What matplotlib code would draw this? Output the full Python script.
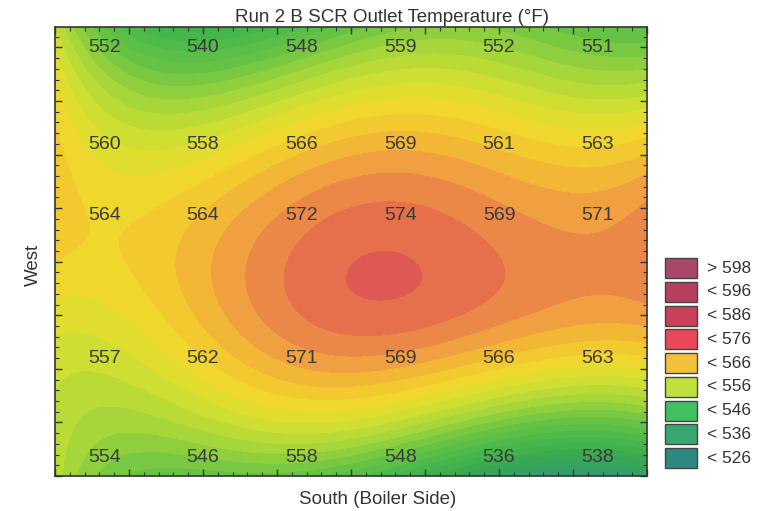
import numpy as np
import matplotlib.pyplot as plt
from matplotlib.colors import LinearSegmentedColormap
from matplotlib.patches import Rectangle
from matplotlib.ticker import MultipleLocator

# measurement grid (x across the duct, y up the West side)
col_x = [0.67, 2.0, 3.33, 4.67, 6.0, 7.33]
row_y = [8.0, 6.18, 4.87, 2.2, 0.35]
temps = [
    [552, 540, 548, 559, 552, 551],
    [560, 558, 566, 569, 561, 563],
    [564, 564, 572, 574, 569, 571],
    [557, 562, 571, 569, 566, 563],
    [554, 546, 558, 548, 536, 538],
]

legend_labels = ['> 598', '< 596', '< 586', '< 576', '< 566',
                 '< 556', '< 546', '< 536', '< 526']
legend_colors = ['#a9486a', '#b8405e', '#c8405a', '#e84858', '#f2c03a',
                 '#c0e040', '#40c060', '#38a870', '#2e8a80']

title = 'Run 2 B SCR Outlet Temperature (°F)'
x_title = 'South (Boiler Side)'
y_title = 'West'

x_max = 8.0
y_max = 8.38
bandwidth = 1.6


def dwls(px, py, pv, gx, gy, h):
    # distance weighted least squares: local quadratic at every grid node
    dx = px[None, :] - gx.ravel()[:, None]
    dy = py[None, :] - gy.ravel()[:, None]
    w = np.exp(-(dx ** 2 + dy ** 2) / (2 * h ** 2))
    A = np.stack([np.ones_like(dx), dx, dy, dx * dx, dx * dy, dy * dy], -1)
    M = np.einsum('gn,gni,gnj->gij', w, A, A) + 1e-6 * np.eye(6)
    b = np.einsum('gn,gni,n->gi', w, A, pv)
    sol = np.linalg.solve(M, b[..., None])[..., 0]
    return sol[:, 0].reshape(gx.shape)


XX, YY = np.meshgrid(col_x, row_y)
V = np.array(temps, dtype=float)

gx, gy = np.meshgrid(np.linspace(0, x_max, 200), np.linspace(0, y_max, 200))
gz = dwls(XX.ravel(), YY.ravel(), V.ravel(), gx, gy, bandwidth)

vmin, vmax = 520, 606
nodes = [
    (520, '#2a7f80'), (526, '#2e8a78'), (532, '#35a06a'), (538, '#3aa850'),
    (544, '#48b84a'), (550, '#6cc444'), (555, '#a6d63a'), (560, '#d6e030'),
    (563, '#f0d82e'), (566, '#f4c232'), (568, '#f2aa3c'), (570, '#ee9444'),
    (572, '#e97a4a'), (574, '#e2624f'), (576, '#dc4f5a'), (580, '#d2465c'),
    (590, '#c2405e'), (598, '#b04060'), (606, '#a04868'),
]
cmap = LinearSegmentedColormap.from_list(
    'scr', [((v - vmin) / (vmax - vmin), col) for v, col in nodes])

fig = plt.figure(figsize=(7.67, 5.11), dpi=100)
ax = fig.add_axes([55 / 767, 35 / 511, 592 / 767, 449 / 511])

levels = np.arange(vmin, vmax + 1, 2)
ax.contourf(gx, gy, gz, levels=levels, cmap=cmap, vmin=vmin, vmax=vmax,
            extend='both')

for i, y in enumerate(row_y):
    for j, x in enumerate(col_x):
        ax.text(x, y, str(temps[i][j]), ha='center', va='center',
                fontsize=14, color='#3a3a3a', family='Liberation Sans')

ax.set_xlim(0, x_max)
ax.set_ylim(0, y_max)
ax.xaxis.set_major_locator(MultipleLocator(1))
ax.xaxis.set_minor_locator(MultipleLocator(0.2))
ax.yaxis.set_major_locator(MultipleLocator(1))
ax.yaxis.set_minor_locator(MultipleLocator(0.2))
ax.tick_params(which='both', direction='in', top=True, right=True,
               labelbottom=False, labelleft=False, color='#333333')
ax.tick_params(which='major', length=5, width=1)
ax.tick_params(which='minor', length=3, width=0.8)
for s in ax.spines.values():
    s.set_color('#333333')
    s.set_linewidth(1.2)

fig.text(392 / 767, 1 - 18 / 511, title, ha='center', va='center',
         fontsize=13.5, color='#333333', family='Liberation Sans')
fig.text(378 / 767, 1 - 499 / 511, x_title, ha='center', va='center',
         fontsize=13.5, color='#333333', family='Liberation Sans')
fig.text(33 / 767, 1 - 265 / 511, y_title, ha='center', va='center',
         rotation=90, fontsize=13.5, color='#333333', family='Liberation Sans')

# legend boxes
lax = fig.add_axes([655 / 767, 33 / 511, 112 / 767, 225 / 511])
lax.set_xlim(0, 112)
lax.set_ylim(225, 0)
lax.axis('off')
for k, (lab, col) in enumerate(zip(legend_labels, legend_colors)):
    top = 5 + k * 23.75
    lax.add_patch(Rectangle((10, top), 32, 20, facecolor=col,
                            edgecolor='#444444', linewidth=1))
    lax.text(52, top + 10, lab, ha='left', va='center', fontsize=12.5,
             color='#333333', family='Liberation Sans')

fig.savefig('out.png', dpi=100)
